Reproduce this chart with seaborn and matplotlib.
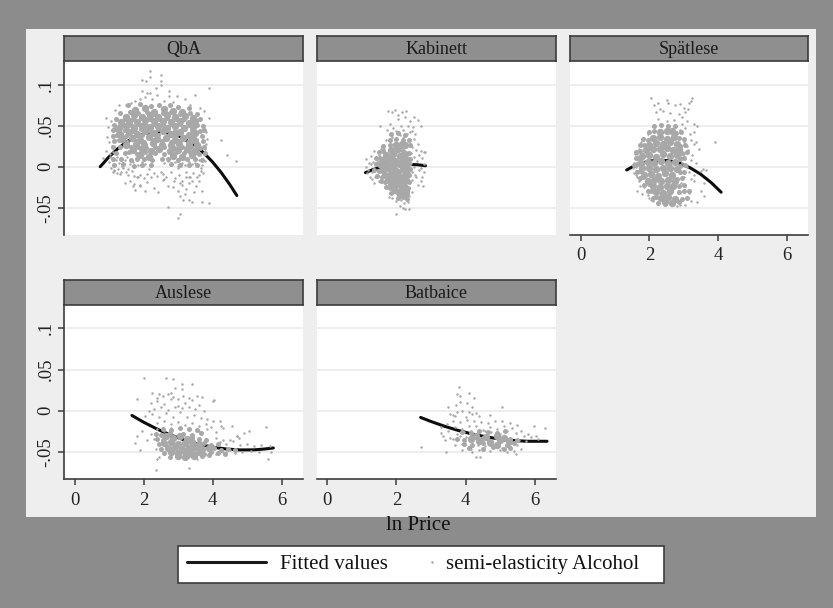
import matplotlib
matplotlib.use("Agg")
import matplotlib.pyplot as plt
import seaborn as sns
from matplotlib.legend_handler import HandlerBase
from matplotlib.lines import Line2D
from matplotlib.offsetbox import DrawingArea
from matplotlib.patches import Rectangle

# ---------- values ----------
panel_names = ["QbA", "Kabinett", "Spätlese", "Auslese", "Batbaice"]
x_ticks = [0, 2, 4, 6]
y_ticks = [-0.05, 0, 0.05, 0.1]
y_tick_labels = ["-.05", "0", ".05", ".1"]

qba_fit_x = [0.74, 1.0, 1.25, 1.5, 1.75, 2.0, 2.5, 3.0, 3.5, 3.75, 4.0, 4.25, 4.5, 4.7]
qba_fit_y = [0.0, 0.0122, 0.022, 0.03, 0.036, 0.0402, 0.0429, 0.038, 0.0256, 0.0165, 0.0056, -0.0072, -0.0219, -0.035]
kab_fit_x = [1.10, 1.3, 1.53, 1.7, 1.9, 2.1, 2.31, 2.6, 2.84]
kab_fit_y = [-0.0073, -0.0038, -0.0008, 0.0005, 0.0015, 0.0024, 0.0028, 0.0024, 0.0012]
spa_fit_x = [1.34, 1.5, 1.75, 2.0, 2.3, 2.6, 2.89, 3.2, 3.5, 3.8, 4.09]
spa_fit_y = [-0.004, -0.0004, 0.004, 0.0068, 0.008, 0.0071, 0.004, -0.0016, -0.0093, -0.0193, -0.031]
aus_fit_x = [1.66, 2.0, 2.4, 2.8, 3.2, 3.6, 4.0, 4.4, 4.8, 5.2, 5.5, 5.76]
aus_fit_y = [-0.0057, -0.0139, -0.0224, -0.0297, -0.0357, -0.0405, -0.0441, -0.0464, -0.0475, -0.0474, -0.0464, -0.0451]
bat_fit_x = [2.7, 3.0, 3.4, 3.8, 4.2, 4.6, 5.0, 5.4, 5.8, 6.36]
bat_fit_y = [-0.0081, -0.013, -0.0189, -0.024, -0.0283, -0.0317, -0.0343, -0.0361, -0.037, -0.037]

# densest parts of each cloud (many overlapping points, read as clumps)
qba_core_x = [1.75, 2.05, 2.3, 2.6, 2.85, 3.1,
              1.5, 1.72, 1.95, 2.18, 2.42, 2.68, 2.92, 3.2, 3.42,
              1.35, 1.58, 1.82, 2.05, 2.3, 2.55, 2.8, 3.05, 3.3, 3.5,
              1.28, 1.5, 1.72, 1.95, 2.18, 2.42, 2.68, 2.92, 3.18, 3.42,
              1.32, 1.58, 1.82, 2.05, 2.3, 2.55, 2.8, 3.05, 3.3, 3.5,
              1.38, 1.65, 1.9, 2.15, 2.4, 2.65, 2.9, 3.15, 3.4,
              1.5, 1.78, 2.02, 2.28, 2.52, 2.78, 3.02, 3.3, 3.55,
              1.7, 1.95, 2.2, 2.45, 2.75, 3.0, 3.25, 3.5,
              1.9, 2.15, 2.85, 3.1, 3.4]
qba_core_y = [0.069, 0.071, 0.067, 0.07, 0.068, 0.066,
              0.061, 0.063, 0.06, 0.063, 0.061, 0.063, 0.06, 0.062, 0.059,
              0.054, 0.056, 0.054, 0.057, 0.055, 0.056, 0.054, 0.056, 0.053, 0.055,
              0.047, 0.049, 0.047, 0.05, 0.048, 0.05, 0.047, 0.049, 0.047, 0.048,
              0.04, 0.042, 0.04, 0.043, 0.041, 0.043, 0.04, 0.042, 0.039, 0.041,
              0.034, 0.035, 0.033, 0.036, 0.034, 0.035, 0.033, 0.035, 0.033,
              0.027, 0.028, 0.026, 0.029, 0.027, 0.026, 0.028, 0.026, 0.027,
              0.02, 0.021, 0.019, 0.021, 0.019, 0.02, 0.021, 0.019,
              0.014, 0.012, 0.013, 0.012, 0.014]
kab_core_x = [1.85, 2.05, 1.7, 1.9, 2.1, 2.25, 1.6, 1.78, 1.95, 2.15, 2.3,
              1.55, 1.72, 1.9, 2.08, 2.27, 1.6, 1.8, 1.98, 2.18, 2.3,
              1.68, 1.85, 2.05, 2.25, 1.75, 1.92, 2.12, 2.28, 1.85, 2.02, 2.22,
              1.95, 2.15, 2.28, 2.1, 2.22, 2.0, 2.15, 2.25]
kab_core_y = [0.02, 0.022, 0.014, 0.015, 0.013, 0.016, 0.008, 0.009, 0.007, 0.009, 0.008,
              0.002, 0.003, 0.001, 0.003, 0.002, -0.004, -0.003, -0.005, -0.003, -0.004,
              -0.01, -0.009, -0.011, -0.01, -0.016, -0.015, -0.017, -0.016, -0.022, -0.021, -0.023,
              -0.028, -0.027, -0.029, -0.033, -0.034, 0.027, 0.028, 0.026]
spa_core_x = [2.3, 2.5, 2.65, 2.1, 2.3, 2.5, 2.72, 2.0, 2.2, 2.4, 2.6, 2.8,
              1.9, 2.1, 2.3, 2.5, 2.7, 2.85, 1.8, 2.0, 2.2, 2.4, 2.6, 2.8,
              1.75, 1.95, 2.15, 2.35, 2.55, 2.75, 1.8, 2.0, 2.2, 2.4, 2.6, 2.8,
              1.85, 2.05, 2.25, 2.45, 2.65, 1.95, 2.15, 2.35, 2.55, 2.75,
              2.1, 2.3, 2.5, 2.7, 2.2, 2.4, 2.6, 2.35, 2.55, 2.75, 2.45, 2.65]
spa_core_y = [0.042, 0.044, 0.043, 0.035, 0.036, 0.034, 0.036, 0.027, 0.029, 0.028, 0.03, 0.028,
              0.02, 0.022, 0.021, 0.023, 0.02, 0.021, 0.013, 0.014, 0.012, 0.015, 0.013, 0.014,
              0.005, 0.006, 0.004, 0.007, 0.005, 0.006, -0.002, -0.001, -0.003, -0.001, -0.002, -0.003,
              -0.01, -0.009, -0.011, -0.008, -0.01, -0.017, -0.016, -0.018, -0.016, -0.017,
              -0.024, -0.025, -0.023, -0.024, -0.031, -0.032, -0.03, -0.038, -0.037, -0.039, -0.043, -0.044]
aus_core_x = [2.65, 2.85, 3.05, 3.25, 2.6, 2.8, 3.0, 3.2, 3.4, 3.6, 2.7, 2.9, 3.1, 3.3, 3.5, 3.7, 3.9,
              2.8, 3.0, 3.2, 3.4, 3.6, 3.0, 3.25, 3.45, 3.2]
aus_core_y = [-0.03, -0.033, -0.031, -0.034, -0.039, -0.038, -0.04, -0.039, -0.038, -0.04, -0.045,
              -0.044, -0.046, -0.045, -0.044, -0.046, -0.045, -0.05, -0.051, -0.05, -0.051, -0.05,
              -0.055, -0.054, -0.055, -0.056]
bat_core_x = [4.3, 4.6, 4.9, 5.1, 4.4, 4.7, 5.0, 5.25, 4.15, 4.9]
bat_core_y = [-0.03, -0.032, -0.031, -0.033, -0.037, -0.038, -0.036, -0.037, -0.034, -0.041]

# medium density around the clumps
qba_mid_x = [1.55, 1.9, 2.2, 2.45, 2.75, 3.0, 3.3,
             1.3, 1.6, 1.85, 2.1, 2.3, 2.55, 2.8, 3.05, 3.35, 3.55,
             1.2, 1.45, 1.7, 1.93, 2.17, 2.42, 2.67, 2.93, 3.18, 3.42, 3.62,
             1.15, 1.38, 1.62, 1.85, 2.08, 2.3, 2.55, 2.8, 3.05, 3.3, 3.55, 3.72,
             1.12, 1.2, 1.45, 1.7, 1.93, 2.18, 2.42, 2.68, 2.92, 3.18, 3.4, 3.62, 3.75,
             1.1, 1.22, 1.48, 1.7, 1.95, 2.18, 2.42, 2.68, 2.95, 3.2, 3.45, 3.68,
             1.15, 1.28, 1.52, 1.78, 2.02, 2.28, 2.52, 2.78, 3.02, 3.28, 3.52, 3.72,
             1.1, 1.3, 1.62, 1.85, 2.08, 2.32, 2.6, 2.88, 3.12, 3.38, 3.62, 3.75,
             1.2, 1.45, 1.58, 1.82, 2.05, 2.33, 2.6, 2.95, 3.18, 3.35, 3.6, 3.78,
             1.1, 1.35, 1.62, 1.8, 2.0, 2.25, 2.52, 2.72, 3.0, 3.25, 3.5, 3.7,
             1.15, 1.4, 1.72, 1.95, 2.2, 2.8, 3.05, 3.3, 3.55]
qba_mid_y = [0.0745, 0.076, 0.0735, 0.075, 0.0745, 0.073, 0.072,
             0.065, 0.0665, 0.0655, 0.0665, 0.0645, 0.0655, 0.066, 0.0645, 0.0655, 0.064,
             0.058, 0.0585, 0.0575, 0.059, 0.0585, 0.0575, 0.059, 0.058, 0.0575, 0.0585, 0.0575,
             0.051, 0.052, 0.0505, 0.0515, 0.051, 0.0525, 0.0505, 0.0515, 0.0525, 0.0505, 0.051, 0.05,
             0.0445, 0.046, 0.045, 0.0435, 0.0455, 0.044, 0.0455, 0.0445, 0.0435, 0.0455, 0.0445, 0.0435, 0.045,
             0.037, 0.038, 0.0375, 0.0365, 0.038, 0.037, 0.0385, 0.037, 0.038, 0.0365, 0.0375, 0.037,
             0.031, 0.032, 0.0305, 0.0315, 0.0305, 0.032, 0.031, 0.0305, 0.0315, 0.0305, 0.032, 0.031,
             0.0235, 0.024, 0.0235, 0.0245, 0.023, 0.024, 0.0235, 0.0225, 0.024, 0.0235, 0.023, 0.024,
             0.017, 0.0165, 0.0175, 0.016, 0.0175, 0.0165, 0.0155, 0.0175, 0.0165, 0.0175, 0.016, 0.017,
             0.009, 0.0095, 0.0085, 0.009, 0.0095, 0.0085, 0.0095, 0.009, 0.0085, 0.0095, 0.009, 0.0085,
             0.002, 0.003, 0.001, 0.0025, 0.0015, 0.003, 0.0015, 0.0025, 0.002]
kab_mid_x = [1.85, 2.05, 2.25,
             1.8, 2.0, 2.2, 2.35,
             1.62, 1.8, 2.0, 2.2, 2.38,
             1.5, 1.62, 1.95, 2.18, 2.35,
             1.42, 1.52, 1.7, 1.88, 2.22, 2.38,
             1.4, 1.5, 1.65, 1.82, 2.0, 2.2, 2.35,
             1.35, 1.48, 1.7, 1.9, 2.1, 2.38,
             1.45, 1.58, 1.78, 1.95, 2.15, 2.35,
             1.55, 1.68, 1.85, 2.05, 2.35,
             1.7, 1.8, 1.95, 2.12, 2.32,
             1.85, 2.02, 2.3,
             2.05, 2.18, 2.3]
kab_mid_y = [0.04, 0.041, 0.039,
             0.033, 0.034, 0.032, 0.033,
             0.025, 0.026, 0.024, 0.025, 0.026,
             0.018, 0.019, 0.018, 0.019, 0.017,
             0.01, 0.011, 0.009, 0.011, 0.01, 0.009,
             0.003, 0.004, 0.002, 0.003, 0.004, 0.002, 0.003,
             -0.004, -0.005, -0.003, -0.004, -0.005, -0.003,
             -0.011, -0.012, -0.01, -0.012, -0.011, -0.01,
             -0.018, -0.019, -0.017, -0.018, -0.019,
             -0.025, -0.026, -0.024, -0.025, -0.026,
             -0.032, -0.031, -0.033,
             -0.038, -0.037, -0.039]
spa_mid_x = [2.15, 2.35, 2.55, 2.75,
             1.98, 2.15, 2.78, 2.92,
             1.82, 1.95, 2.85, 3.0,
             1.72, 1.85, 2.9, 3.05,
             1.62, 1.74, 2.95, 3.1,
             1.6, 1.7, 2.9, 3.0,
             1.55, 1.65, 2.9, 3.05,
             1.65, 1.72, 2.88, 3.0,
             1.72, 1.82, 2.82, 2.95,
             1.85, 1.98, 2.85, 3.0,
             1.95, 2.05, 2.85, 3.0, 3.15,
             2.1, 2.2, 2.95, 3.1,
             2.25, 2.45, 2.85]
spa_mid_y = [0.05, 0.051, 0.049, 0.05,
             0.042, 0.043, 0.041, 0.042,
             0.034, 0.033, 0.035, 0.034,
             0.026, 0.027, 0.025, 0.026,
             0.018, 0.019, 0.017, 0.018,
             0.01, 0.011, 0.009, 0.01,
             0.002, 0.003, 0.001, 0.002,
             -0.006, -0.005, -0.007, -0.006,
             -0.014, -0.013, -0.015, -0.014,
             -0.022, -0.021, -0.023, -0.022,
             -0.03, -0.029, -0.031, -0.03, -0.029,
             -0.038, -0.037, -0.039, -0.038,
             -0.044, -0.045, -0.043]
aus_mid_x = [2.55, 2.8, 3.05, 3.3, 3.55,
             2.35, 2.5, 2.75, 3.15, 3.4, 3.65,
             2.4, 2.55, 3.4, 3.6, 3.8,
             2.45, 3.75, 3.95, 4.15,
             2.5, 4.05, 4.25, 4.45, 4.65,
             2.6, 3.75, 3.95, 4.15, 4.35,
             2.75, 3.7, 3.9]
aus_mid_y = [-0.022, -0.023, -0.021, -0.022, -0.023,
             -0.028, -0.029, -0.027, -0.028, -0.029, -0.027,
             -0.034, -0.035, -0.033, -0.034, -0.035,
             -0.04, -0.039, -0.041, -0.04,
             -0.046, -0.045, -0.047, -0.046, -0.047,
             -0.051, -0.052, -0.05, -0.051, -0.052,
             -0.056, -0.055, -0.054]
bat_mid_x = [3.9, 4.15, 4.4, 4.65, 4.9, 5.15,
             3.75, 3.95, 4.5, 5.3, 5.5,
             3.95, 4.2, 4.5, 4.7, 5.2, 5.4,
             4.1, 4.5, 4.8, 5.1, 5.3]
bat_mid_y = [-0.026, -0.027, -0.025, -0.026, -0.027, -0.025,
             -0.034, -0.035, -0.033, -0.034, -0.035,
             -0.04, -0.041, -0.039, -0.04, -0.041, -0.039,
             -0.045, -0.046, -0.044, -0.046, -0.045]

# thinner edges of each cloud: single points
qba_x = [2.19, 2.49, 1.95, 2.08, 2.17, 2.49, 2.37, 2.49, 3.89, 1.95, 2.1, 2.19, 2.05, 2.39, 2.73, 2.73,
         3.5, 2.97, 3.2, 4.23, 4.43, 4.69, 3.89, 0.91, 0.98, 1.29, 1.17, 2.71, 3.05, 2.99, 3.41, 3.68,
         3.89, 1.68, 1.9, 2.03, 2.41, 1.76, 1.5, 1.62, 1.75, 1.88, 2.25, 2.6, 2.85, 3.35, 3.62, 3.75,
         1.05, 1.1, 1.15, 1.0, 1.08, 1.18, 1.12, 1.02, 1.2, 1.24, 1.05, 1.15, 1.0, 1.1, 1.22, 0.95,
         0.82, 0.9, 1.02, 1.12, 1.22, 1.34, 1.28, 1.38, 1.45, 1.52, 1.6, 1.7, 1.78, 1.85, 1.95, 2.05,
         1.15, 1.25, 1.32, 1.4, 1.48, 1.55, 1.65, 1.72, 1.8, 1.9, 2.0, 2.1, 2.2, 2.3, 2.4, 2.5,
         2.6, 2.7, 2.8, 2.9, 3.0, 3.1, 3.2, 3.3, 3.4, 3.5, 3.6, 3.7, 3.78, 2.55, 2.65, 2.78, 2.9,
         3.02, 3.12, 3.22, 3.32, 3.42, 3.55, 3.65, 3.12, 3.22, 3.0, 2.85, 3.3, 3.45, 3.6, 3.05, 3.2,
         3.15, 3.3, 3.52, 3.7, 1.45, 1.6, 1.72, 1.9, 2.1, 2.3, 2.55, 2.7, 2.88, 3.05, 3.22, 3.4,
         3.6, 3.72, 1.55, 1.85, 2.15, 2.6, 3.0, 3.35, 3.65, 3.82, 3.85, 3.78, 3.8]
qba_y = [0.116, 0.112, 0.106, 0.104, 0.109, 0.104, 0.0955, 0.0996, 0.0963, 0.0927, 0.09, 0.09, 0.085, 0.087,
         0.0927, 0.086, 0.087, 0.086, 0.0825, 0.032, 0.014, 0.0069, 0.059, 0.059, 0.048, 0.075, 0.069,
         -0.049, -0.058, -0.063, -0.043, -0.043, -0.044, -0.023, -0.023, -0.029, -0.031, -0.028, 0.075,
         0.078, 0.08, 0.082, 0.082, 0.08, 0.079, 0.075, 0.072, 0.068,
         0.055, 0.045, 0.037, 0.03, 0.025, 0.033, 0.018, 0.012, 0.008, 0.042, -0.002, -0.005, 0.006,
         0.002, 0.012, 0.036, 0.011, 0.019, 0.016, -0.006, -0.008, -0.007, 0.004, 0.001, 0.008, 0.012,
         0.003, 0.006, 0.011, 0.002, 0.006, 0.003, -0.004, -0.003, -0.009, -0.002, -0.007, -0.01,
         -0.005, -0.011, -0.013, -0.01, -0.014, -0.009, -0.012, -0.008, -0.011, -0.006, 0.004, 0.007,
         0.002, 0.006, 0.001, 0.005, 0.002, 0.006, 0.003, 0.004, 0.008, 0.002, 0.007, -0.009, -0.013,
         -0.006, -0.014, -0.01, -0.017, -0.007, -0.012, -0.008, -0.013, -0.005, -0.022, -0.027, -0.03,
         -0.025, -0.02, -0.031, -0.018, -0.036, -0.033, -0.04, -0.041, -0.024, -0.03, -0.02, -0.018,
         -0.021, -0.022, -0.019, -0.026, -0.016, -0.024, -0.018, -0.02, -0.012, -0.017, -0.01, -0.008,
         -0.003, -0.012, -0.003, -0.015, -0.002, -0.012, -0.002, 0.028, 0.034, 0.022, 0.042]
kab_x = [1.75, 1.88, 1.95, 2.05, 2.15, 2.28, 2.5, 2.62, 2.72, 1.52, 1.8, 2.05, 2.25, 2.4, 2.48, 1.72, 1.9,
         2.12, 2.32, 2.45, 1.82, 2.0, 2.2, 2.38, 2.55, 1.88, 2.1, 2.3, 2.5, 1.7, 1.95, 2.18, 2.4, 2.62,
         1.65, 1.9, 2.3, 2.45, 2.7, 2.8, 1.12, 1.18, 1.25, 1.32, 1.4, 1.48, 1.15, 1.22, 1.3, 1.38, 1.45,
         1.12, 1.2, 1.28, 1.35, 1.42, 1.5, 1.25, 1.35, 1.45, 1.55, 2.42, 2.5, 2.58, 2.66, 2.75, 2.82,
         2.42, 2.52, 2.6, 2.7, 2.8, 2.44, 2.54, 2.65, 2.74, 2.45, 2.56, 2.7, 2.8, 2.62, 2.76, 1.78, 1.88,
         2.35, 2.45, 2.0, 2.12, 2.22, 2.32, 2.1, 2.2, 2.25, 2.35, 2.0]
kab_y = [0.068, 0.067, 0.069, 0.063, 0.066, 0.068, 0.06, 0.057, 0.05, 0.05, 0.052, 0.058, 0.06, 0.055, 0.048,
         0.045, 0.047, 0.05, 0.05, 0.044, 0.04, 0.043, 0.045, 0.042, 0.04, 0.036, 0.038, 0.04, 0.034, 0.032,
         0.033, 0.035, 0.032, 0.028, 0.022, 0.028, 0.027, 0.024, 0.019, 0.018, 0.0, -0.004, 0.003, 0.006,
         0.01, 0.014, -0.008, -0.012, -0.007, -0.013, -0.004, 0.009, 0.004, -0.015, -0.02, -0.011, -0.017,
         0.013, 0.019, 0.008, 0.022, 0.017, 0.012, 0.02, 0.014, 0.01, 0.018, 0.004, 0.0, 0.007, -0.002,
         0.003, -0.006, -0.01, -0.004, -0.012, -0.016, -0.013, -0.018, -0.007, -0.022, -0.024, -0.037,
         -0.038, -0.036, -0.031, -0.042, -0.04, -0.044, -0.043, -0.048, -0.05, -0.052, -0.051, -0.057]
spa_x = [2.06, 2.52, 3.2, 3.15, 3.25, 2.15, 2.25, 2.3, 2.55, 2.75, 2.9, 3.0, 3.12, 2.2, 2.4, 2.6, 2.85,
         3.05, 2.25, 2.5, 2.72, 2.95, 2.95, 3.1, 3.3, 3.4, 2.9, 3.05, 3.18, 3.3, 3.92, 1.6, 1.7, 1.85, 1.95,
         1.55, 1.65, 1.75, 1.6, 1.68, 1.52, 1.62, 1.72, 1.55, 1.65, 1.58, 1.7, 1.72, 1.6, 1.65, 1.78, 1.85,
         2.9, 3.0, 3.1, 3.2, 3.3, 2.92, 3.02, 3.12, 3.25, 3.35, 3.45, 2.95, 3.1, 3.2, 3.35, 3.55, 2.88, 3.0,
         3.15, 3.3, 3.5, 3.65, 2.92, 3.05, 3.2, 3.3, 3.6, 1.95, 2.05, 2.85, 3.0, 3.15, 3.5, 3.6, 2.0, 2.1,
         2.2, 2.9, 3.05, 2.8, 2.9, 3.2, 3.4]
spa_y = [0.083, 0.081, 0.08, 0.077, 0.084, 0.075, 0.077, 0.07, 0.078, 0.075, 0.076, 0.072, 0.07, 0.066,
         0.068, 0.065, 0.064, 0.066, 0.058, 0.056, 0.057, 0.06, 0.052, 0.055, 0.052, 0.05, 0.045, 0.047,
         0.04, 0.042, 0.03, 0.012, 0.022, 0.035, 0.04, 0.005, 0.016, 0.03, 0.0, 0.008, -0.002, -0.005,
         0.018, -0.008, -0.012, 0.015, -0.018, -0.024, -0.01, -0.03, -0.033, -0.025, 0.022, 0.03, 0.025,
         0.032, 0.028, 0.012, 0.016, 0.02, 0.014, 0.03, 0.022, 0.004, 0.0, 0.008, 0.004, -0.003, -0.008,
         -0.012, -0.006, -0.01, -0.005, -0.004, -0.02, -0.024, -0.015, -0.018, -0.02, -0.034, -0.04, -0.03,
         -0.028, -0.032, -0.03, -0.036, -0.038, -0.042, -0.036, -0.04, -0.046, -0.048, -0.046, -0.042, -0.043]
aus_x = [2.0, 2.65, 2.85, 3.1, 3.4, 2.9, 3.1, 2.8, 1.8, 2.25, 2.45, 2.4, 2.55, 2.7, 2.85, 3.0, 3.15, 3.3,
         3.55, 3.7, 2.2, 2.4, 2.6, 2.8, 3.0, 3.2, 3.4, 3.6, 4.0, 4.05, 2.15, 2.3, 2.5, 2.7, 2.9, 3.1, 3.3,
         3.5, 3.75, 2.05, 2.25, 2.45, 2.65, 2.85, 3.05, 3.25, 3.45, 3.65, 3.85, 4.0, 4.2, 2.4, 2.6, 2.8, 3.0,
         3.2, 3.4, 3.6, 3.8, 3.95, 4.25, 1.8, 1.95, 2.2, 2.4, 2.6, 2.8, 3.6, 3.85, 4.1, 4.3, 4.55, 4.7, 4.9,
         5.05, 5.55, 1.75, 2.1, 2.3, 1.9, 2.35, 2.45, 2.4, 3.55, 2.35, 3.3, 5.6, 5.7, 4.2, 4.4, 4.6, 4.8,
         5.0, 5.2, 5.4, 5.65, 4.4, 4.65, 4.85, 5.1, 5.35, 4.1, 4.3, 4.5, 4.7, 4.75, 3.9, 4.1, 4.3, 4.5]
aus_y = [0.04, 0.04, 0.038, 0.032, 0.032, 0.028, 0.026, 0.022, 0.014, 0.021, 0.02, 0.015, 0.018, 0.02, 0.017,
         0.014, 0.018, 0.016, 0.018, 0.017, 0.01, 0.012, 0.008, 0.014, 0.006, 0.01, 0.013, 0.007, 0.012,
         0.013, 0.0, 0.002, 0.004, 0.001, 0.005, 0.003, 0.004, 0.002, 0.0, -0.006, -0.004, -0.008, -0.003,
         -0.007, -0.002, -0.008, -0.005, -0.009, -0.01, -0.012, -0.012, -0.015, -0.012, -0.016, -0.014,
         -0.017, -0.015, -0.018, -0.016, -0.02, -0.019, -0.03, -0.024, -0.028, -0.022, -0.025, -0.021, -0.024,
         -0.022, -0.026, -0.021, -0.019, -0.03, -0.027, -0.024, -0.02, -0.039, -0.036, -0.034, -0.048, -0.046,
         -0.056, -0.059, -0.059, -0.072, -0.069, -0.059, -0.05, -0.038, -0.04, -0.037, -0.042, -0.04, -0.043,
         -0.041, -0.043, -0.05, -0.051, -0.05, -0.049, -0.05, -0.033, -0.035, -0.036, -0.03, -0.033, -0.051,
         -0.053, -0.05, -0.047]
bat_x = [3.8, 3.75, 4.1, 3.85, 4.25, 3.5, 3.72, 3.85, 4.05, 4.18, 5.05, 3.75, 3.65, 3.9, 4.1, 4.3, 3.55, 3.7,
         4.0, 4.2, 4.4, 4.7, 3.3, 3.45, 3.65, 3.85, 4.05, 4.25, 4.45, 4.65, 4.85, 5.05, 5.3, 5.5, 5.98, 6.3,
         3.3, 3.5, 3.7, 3.9, 4.1, 4.3, 4.5, 4.7, 4.9, 5.1, 5.35, 5.6, 5.8, 6.05, 3.35, 3.55, 3.75, 3.95, 4.15,
         4.35, 4.55, 4.75, 5.0, 5.2, 5.45, 5.7, 5.9, 6.1, 3.4, 3.65, 3.85, 4.0, 4.2, 4.45, 4.65, 4.85, 5.15,
         5.3, 5.55, 5.75, 3.7, 3.9, 4.1, 4.35, 4.55, 4.8, 5.05, 5.25, 5.5, 3.9, 4.15, 4.4, 4.7, 5.0, 5.2,
         5.4, 2.72, 3.43, 4.3, 4.42, 5.45, 5.3, 5.6, 3.95, 4.2]
bat_y = [0.029, 0.02, 0.022, 0.018, 0.016, 0.005, 0.007, 0.011, 0.009, 0.004, 0.005, -0.002, -0.005, 0.0,
         -0.001, -0.003, -0.004, -0.006, -0.007, -0.004, -0.006, -0.005, -0.02, -0.016, -0.012, -0.014,
         -0.011, -0.012, -0.014, -0.015, -0.012, -0.013, -0.015, -0.017, -0.018, -0.021, -0.027, -0.024,
         -0.02, -0.022, -0.019, -0.018, -0.023, -0.02, -0.022, -0.019, -0.021, -0.024, -0.028, -0.03,
         -0.03, -0.033, -0.028, -0.026, -0.025, -0.027, -0.024, -0.026, -0.028, -0.025, -0.027, -0.03, -0.032,
         -0.034, -0.036, -0.034, -0.031, -0.032, -0.036, -0.034, -0.04, -0.042, -0.035, -0.04, -0.036, -0.037,
         -0.042, -0.04, -0.044, -0.041, -0.043, -0.042, -0.045, -0.044, -0.041, -0.047, -0.046, -0.048, -0.049,
         -0.047, -0.05, -0.049, -0.044, -0.05, -0.056, -0.056, -0.052, -0.044, -0.046, -0.042, -0.05]

fits = [(qba_fit_x, qba_fit_y), (kab_fit_x, kab_fit_y), (spa_fit_x, spa_fit_y),
        (aus_fit_x, aus_fit_y), (bat_fit_x, bat_fit_y)]
clouds = [(qba_x, qba_y), (kab_x, kab_y), (spa_x, spa_y), (aus_x, aus_y), (bat_x, bat_y)]
mids = [(qba_mid_x, qba_mid_y), (kab_mid_x, kab_mid_y), (spa_mid_x, spa_mid_y),
        (aus_mid_x, aus_mid_y), (bat_mid_x, bat_mid_y)]
cores = [(qba_core_x, qba_core_y), (kab_core_x, kab_core_y), (spa_core_x, spa_core_y),
         (aus_core_x, aus_core_y), (bat_core_x, bat_core_y)]

def pairs(xs, ys):
    """Keep only the readings that have both coordinates."""
    n = min(len(xs), len(ys))
    return xs[:n], ys[:n]

# ---------- figure ----------
W, H = 833, 608
OUTER, INNER, STRIP, DARK, DOT = "#8c8c8c", "#eeeeee", "#8f8f8f", "#3c3c3c", "#a8a8a8"
sns.set_theme(style="white")
plt.rcParams["font.family"] = ["Liberation Serif", "DejaVu Serif"]
fig = plt.figure(figsize=(W / 100, H / 100), dpi=100, facecolor=OUTER)
fig.add_artist(Rectangle((26 / W, 1 - 517 / H), (816 - 26) / W, (517 - 29) / H,
                         transform=fig.transFigure, fc=INNER, ec="none", zorder=-5))

def px_box(l, t, r, b):
    return [l / W, 1 - b / H, (r - l) / W, (b - t) / H]

columns = [(64, 303), (316.7, 556), (570, 808)]
rows = [(36, 61, 235), (280, 304.7, 479.3)]
slots = [(0, 0), (0, 1), (0, 2), (1, 0), (1, 1)]

for i, (name, (row, col)) in enumerate(zip(panel_names, slots)):
    l, r = columns[col]
    s_top, top, bot = rows[row]
    ax = fig.add_axes(px_box(l, top, r, bot), facecolor="white")
    sax = fig.add_axes(px_box(l, s_top, r, top), facecolor=STRIP)
    sax.set_xticks([]); sax.set_yticks([])
    for sp in sax.spines.values():
        sp.set_visible(True); sp.set_color(DARK); sp.set_linewidth(1.2)
    sax.text(0.5, 0.47, name, ha="center", va="center", fontsize=13, color="#1a1a1a",
             transform=sax.transAxes)

    fx, fy = fits[i]
    sns.lineplot(x=fx, y=fy, ax=ax, color="#0d0d0d", lw=2.2, errorbar=None, sort=True, zorder=2)
    for (dx, dy), size in ((cores[i], 28), (mids[i], 13), (clouds[i], 3.2)):
        px, py = pairs(dx, dy)
        sns.scatterplot(x=px, y=py, ax=ax, color=DOT, s=size, linewidth=0, zorder=3)

    ax.set_xlim(-0.31, 6.62)
    ax.set_ylim(-0.0831, 0.1286)
    ax.set_xticks(x_ticks)
    ax.set_yticks(y_ticks)
    ax.set_yticklabels(y_tick_labels, rotation=90, va="center", fontsize=13.5, color="#222222")
    ax.tick_params(axis="x", labelsize=13.5, labelcolor="#222222", length=4, width=1.1,
                   color=DARK, bottom=(row == 1 or col == 2), labelbottom=(row == 1 or col == 2), pad=5)
    ax.tick_params(axis="y", length=4, width=1.1, color=DARK, left=(col == 0), labelleft=(col == 0), pad=3)
    ax.grid(axis="y", color="#eaeaea", lw=1.1)
    ax.set_axisbelow(True)
    for side in ("top", "right"):
        ax.spines[side].set_visible(False)
    ax.spines["left"].set_visible(col == 0)
    ax.spines["bottom"].set_visible(row == 1 or col == 2)
    ax.spines["left"].set_color(DARK); ax.spines["bottom"].set_color(DARK)
    ax.spines["left"].set_linewidth(1.2); ax.spines["bottom"].set_linewidth(1.2)

fig.text(418 / W, 1 - 525 / H, "ln Price", ha="center", va="center", fontsize=15, color="#111111")

class RightDot(HandlerBase):
    def create_artists(self, legend, orig, xd, yd, w, h, fs, trans):
        dot = Line2D([w - xd], [(h - yd) / 2], marker="o", ms=1.8, ls="none",
                     mfc=DOT, mec="none", transform=trans)
        return [dot]

line_h = Line2D([], [], color="#1a1a1a", lw=2.2)
dot_h = Line2D([], [], marker="o", ls="none", color=DOT)
leg = fig.legend([line_h, dot_h], ["Fitted values", "semi-elasticity Alcohol"], ncols=2,
                 loc="center", bbox_to_anchor=(421 / W, 1 - 564.5 / H), frameon=True, fancybox=False,
                 framealpha=1, facecolor="white", edgecolor=DARK, fontsize=15, handlelength=3.79,
                 handletextpad=0.67, columnspacing=-1.68, borderpad=0.43, borderaxespad=0,
                 labelcolor="#111111", handler_map={dot_h: RightDot()})
leg.get_frame().set_linewidth(1.2)
# the reference keeps more white to the right of the last label
leg._legend_handle_box.get_children().append(DrawingArea(36.7, 1))

fig.savefig("out.png", dpi=100, facecolor=OUTER)
